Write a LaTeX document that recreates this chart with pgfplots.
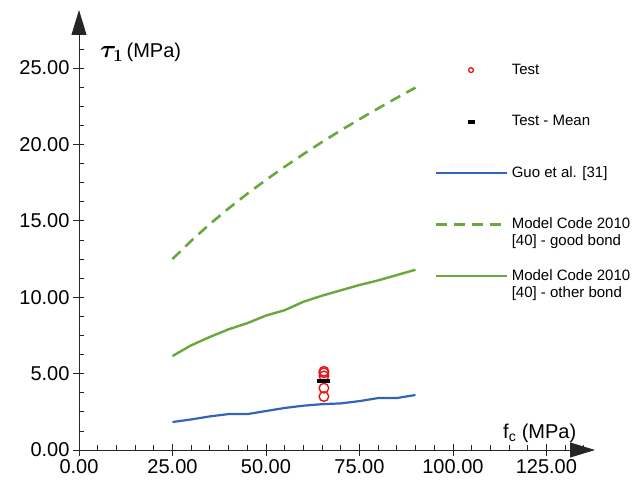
\documentclass[border=0pt]{standalone}
\usepackage{fontspec}
\setmainfont{Liberation Sans}
\usepackage{amsmath,bm}
\usepackage{pgfplots}
\pgfplotsset{compat=1.18}
\usetikzlibrary{arrows.meta}

\definecolor{mcgreen}{RGB}{106,168,60}
\definecolor{guoblue}{RGB}{52,100,185}
\definecolor{testred}{RGB}{235,20,20}

\begin{document}
\begin{tikzpicture}
\begin{axis}[
  scale only axis, width=516pt, height=440pt,
  xmin=0, xmax=138, ymin=0, ymax=28.8,
  axis lines=left,
  axis line style={line width=0.9pt, black!85, -{Triangle[length=25pt,width=15pt]}},
  clip=false,
  xtick={0,25,...,125}, ytick={0,5,...,25},
  minor xtick={5,10,...,135},
  minor ytick={1.25,2.5,...,26.25},
  tick align=inside,
  major tick length=12pt, minor tick length=5pt,
  tick style={line width=0.8pt, black!85},
  every major x tick/.append style={yshift=-6pt},
  every major y tick/.append style={xshift=-6pt, dash pattern=on 6pt off 6pt},
  /pgf/number format/.cd, fixed, fixed zerofill, precision=2, assume math mode=true,
  /pgfplots/.cd,
  ticklabel style={font=\fontsize{20}{20}\selectfont},
  xticklabel style={yshift=-6pt},
  yticklabel style={xshift=-6pt},
  legend style={draw=none, fill=none, at={(rel axis cs:0.688,0.882)}, anchor=north west,
    inner sep=0pt, row sep=35.5pt, column sep=3pt,
    font=\fontsize{15}{17}\selectfont,
    nodes={inner sep=1pt, text height=11pt, text depth=3pt}},
  legend cell align=left,
  legend image code/.code={\draw[mark repeat=2,mark phase=2,#1] plot coordinates {(0pt,0pt)(35.5pt,0pt)(71pt,0pt)};},
]

% Test results
\addplot[only marks, mark=o, mark size=4.8pt, mark options={line width=1.4pt, testred},
  legend image code/.code={\path (0pt,0pt) (71pt,0pt);
    \draw[testred, line width=1.3pt] (35.5pt,0pt) circle (2.4pt);}]
  coordinates {(65.5,5.15) (65.5,5.05) (65.5,4.85) (65.5,4.05) (65.5,3.5)};
\addlegendentry{Test}

\addplot[only marks, mark=-, mark size=6.5pt, mark options={line width=4.5pt, black},
  legend image code/.code={\path (0pt,0pt) (71pt,0pt);
    \draw[black, line width=4pt] (32pt,0pt) -- (39pt,0pt);}]
  coordinates {(65.5,4.52)};
\addlegendentry{Test - Mean}

% Guo et al.
\addplot[guoblue, line width=2.2pt] coordinates {
  (25,1.83) (30,2.0) (35,2.2) (40,2.35) (45,2.35) (50,2.55) (55,2.75)
  (60,2.9) (65,3.0) (70,3.05) (75,3.2) (80,3.4) (85,3.4) (90,3.6)};
\addlegendentry{Guo et al. [31]}

% Model Code 2010, good bond
\addplot[mcgreen, line width=2.6pt, dash pattern=on 11pt off 7pt] coordinates {
  (25,12.5) (30,13.69) (35,14.79) (40,15.81) (45,16.77) (50,17.68) (55,18.54)
  (60,19.36) (65,20.16) (70,20.92) (75,21.65) (80,22.36) (85,23.05) (90,23.72)};
\addlegendentry{\begin{tabular}[t]{@{}l@{}}Model Code 2010\\ {[40]} - good bond\end{tabular}}

% Model Code 2010, other bond
\addplot[mcgreen, line width=2.4pt] coordinates {
  (25,6.15) (30,6.85) (35,7.4) (40,7.9) (45,8.3) (50,8.8) (55,9.15)
  (60,9.7) (65,10.1) (70,10.45) (75,10.8) (80,11.1) (85,11.45) (90,11.8)};
\addlegendentry{\begin{tabular}[t]{@{}l@{}}Model Code 2010\\ {[40]} - other bond\end{tabular}}

\node[anchor=base west, font=\fontsize{20}{24}\selectfont, inner sep=0pt] at (axis cs:5.6,25.7)
  {{\fontsize{25}{28}\selectfont$\bm{\tau_1}$}\,(MPa)};
\node[anchor=base west, font=\fontsize{20}{24}\selectfont, inner sep=0pt] at (axis cs:113.4,0.78)
  {f\textsubscript{c} (MPa)};

\path ([shift={(-79pt,-40pt)}]rel axis cs:0,0) rectangle ([shift={(44pt,10pt)}]rel axis cs:1,1);
\end{axis}
\end{tikzpicture}
\end{document}
